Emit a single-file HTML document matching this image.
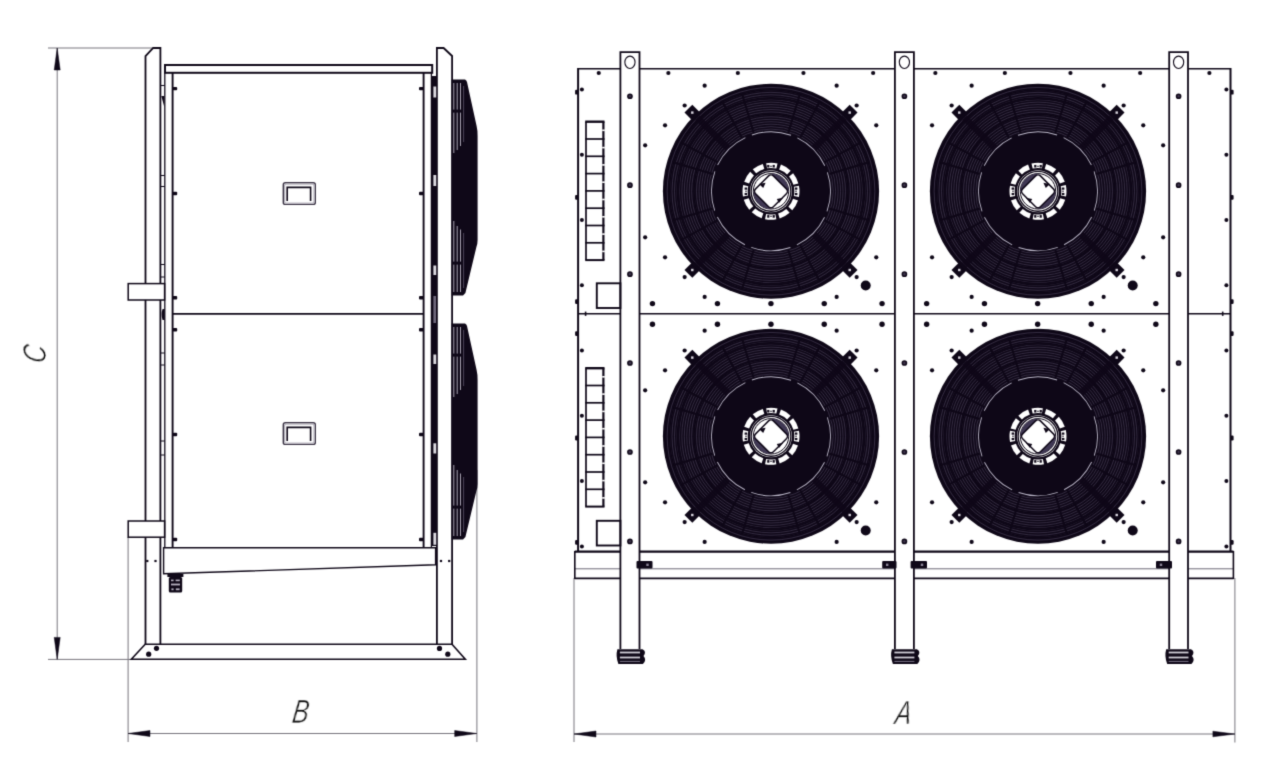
<!DOCTYPE html>
<html lang="en"><head><meta charset="utf-8"><title>Dimensional drawing</title>
<style>html,body{margin:0;padding:0;background:#fff;}body{width:1280px;height:771px;overflow:hidden;}svg{display:block;}</style></head><body>
<svg width="1280" height="771" viewBox="0 0 1280 771">
<rect width="1280" height="771" fill="#fff"/>
<defs><filter id="soft" x="0" y="0" width="1280" height="771" filterUnits="userSpaceOnUse" color-interpolation-filters="sRGB"><feConvolveMatrix order="3" kernelMatrix="0.01917 0.10012 0.01917 0.10012 0.52283 0.10012 0.01917 0.10012 0.01917" edgeMode="duplicate" preserveAlpha="true"/></filter><filter id="gray" x="-20%" y="-20%" width="140%" height="140%" color-interpolation-filters="sRGB"><feColorMatrix type="saturate" values="0"/></filter></defs>
<g filter="url(#soft)">
<rect width="1280" height="771" fill="#fff"/>
<line x1="57.2" y1="48" x2="57.2" y2="659.4" stroke="#77757d" stroke-width="1" />
<line x1="48" y1="48" x2="153" y2="48" stroke="#77757d" stroke-width="1" />
<line x1="48" y1="659.4" x2="132" y2="659.4" stroke="#77757d" stroke-width="1" />
<path d="M57.20,48.00 L54.20,70.00 L60.20,70.00 Z" stroke="#0f0818" stroke-width="0.5" fill="#0f0818" stroke-linejoin="miter"/>
<path d="M57.20,659.40 L54.20,637.40 L60.20,637.40 Z" stroke="#0f0818" stroke-width="0.5" fill="#0f0818" stroke-linejoin="miter"/>
<line x1="128.1" y1="733.5" x2="476.7" y2="733.5" stroke="#77757d" stroke-width="1" />
<line x1="128.1" y1="537" x2="128.1" y2="742" stroke="#77757d" stroke-width="1" />
<line x1="476.9" y1="470" x2="476.9" y2="742" stroke="#77757d" stroke-width="1" />
<path d="M128.10,733.50 L150.00,730.50 L150.00,736.50 Z" stroke="#0f0818" stroke-width="0.5" fill="#0f0818" stroke-linejoin="miter"/>
<path d="M476.70,733.50 L454.70,730.50 L454.70,736.50 Z" stroke="#0f0818" stroke-width="0.5" fill="#0f0818" stroke-linejoin="miter"/>
<line x1="574" y1="734" x2="1234.9" y2="734" stroke="#77757d" stroke-width="1" />
<line x1="574" y1="578" x2="574" y2="742" stroke="#77757d" stroke-width="1" />
<line x1="1234.9" y1="578" x2="1234.9" y2="742.5" stroke="#77757d" stroke-width="1" />
<path d="M574.00,734.00 L596.00,731.00 L596.00,737.00 Z" stroke="#0f0818" stroke-width="0.5" fill="#0f0818" stroke-linejoin="miter"/>
<path d="M1234.90,734.00 L1212.90,731.20 L1212.90,736.80 Z" stroke="#0f0818" stroke-width="0.5" fill="#0f0818" stroke-linejoin="miter"/>
<text x="0" y="0" font-family="Liberation Sans, sans-serif" font-style="italic" font-size="33" fill="#0f0818" stroke="#fff" stroke-width="0.7" paint-order="fill stroke" filter="url(#gray)" text-anchor="middle" transform="translate(299.5,722.8) skewX(-8) scale(0.74,1)">B</text>
<text x="0" y="0" font-family="Liberation Sans, sans-serif" font-style="italic" font-size="33" fill="#0f0818" stroke="#fff" stroke-width="0.7" paint-order="fill stroke" filter="url(#gray)" text-anchor="middle" transform="translate(902.2,724) skewX(-8) scale(0.74,1)">A</text>
<text x="0" y="0" font-family="Liberation Sans, sans-serif" font-style="italic" font-size="33" fill="#0f0818" stroke="#fff" stroke-width="0.7" paint-order="fill stroke" filter="url(#gray)" text-anchor="middle" transform="translate(46,355.2) rotate(-90) skewX(-8) scale(0.74,1)">C</text>
<path d="M145.50,644.00 L145.50,56.20 L153.20,48.00 L160.40,48.00 L160.40,644.00" stroke="#0f0818" stroke-width="1.8" fill="none" stroke-linejoin="miter"/>
<path d="M436.90,644.00 L436.90,48.00 L443.60,48.00 L452.10,56.00 L452.10,644.00" stroke="#0f0818" stroke-width="1.8" fill="none" stroke-linejoin="miter"/>
<path d="M131.30,659.20 L145.20,644.20 L452.00,644.20 L465.30,659.20 Z" stroke="#0f0818" stroke-width="1.6" fill="none" stroke-linejoin="miter"/>
<circle cx="156.50" cy="648.30" r="2.6" fill="#0f0818"/>
<circle cx="148.70" cy="654.20" r="2.6" fill="#0f0818"/>
<circle cx="439.50" cy="648.40" r="2.6" fill="#0f0818"/>
<circle cx="447.80" cy="654.20" r="2.6" fill="#0f0818"/>
<rect x="165" y="65" width="267.2" height="7.8" stroke="#0f0818" stroke-width="2.0" fill="none" rx="0"/>
<line x1="164.8" y1="72" x2="164.8" y2="574" stroke="#0f0818" stroke-width="1.3" />
<line x1="172.6" y1="72" x2="172.6" y2="547.7" stroke="#0f0818" stroke-width="1.9" />
<line x1="423.6" y1="72" x2="423.6" y2="547.7" stroke="#0f0818" stroke-width="1.9" />
<line x1="431.4" y1="72" x2="431.4" y2="547.7" stroke="#0f0818" stroke-width="1.3" />
<rect x="431.6" y="76" width="5.4" height="470" fill="#0f0818"/>
<rect x="433.4" y="296" width="2.6" height="27" fill="#6f687c"/>
<rect x="433.4" y="86.5" width="2.8" height="11" fill="#dedce2"/>
<rect x="433.4" y="175" width="2.8" height="11" fill="#dedce2"/>
<rect x="433.4" y="265.5" width="2.8" height="9.5" fill="#dedce2"/>
<rect x="433.4" y="354.5" width="2.8" height="9.5" fill="#dedce2"/>
<rect x="433.4" y="443.3" width="2.8" height="10.2" fill="#dedce2"/>
<rect x="433.4" y="532.8" width="2.8" height="12" fill="#dedce2"/>
<line x1="160" y1="85.5" x2="164.8" y2="85.5" stroke="#0f0818" stroke-width="1" />
<line x1="160.3" y1="175.5" x2="164.8" y2="175.5" stroke="#0f0818" stroke-width="1" />
<line x1="160.3" y1="186.5" x2="164.8" y2="186.5" stroke="#0f0818" stroke-width="1" />
<line x1="160.3" y1="264.5" x2="164.8" y2="264.5" stroke="#0f0818" stroke-width="1" />
<line x1="160.3" y1="277" x2="164.8" y2="277" stroke="#0f0818" stroke-width="1" />
<line x1="160.3" y1="353" x2="164.8" y2="353" stroke="#0f0818" stroke-width="1" />
<line x1="160.3" y1="365" x2="164.8" y2="365" stroke="#0f0818" stroke-width="1" />
<line x1="160.3" y1="441" x2="164.8" y2="441" stroke="#0f0818" stroke-width="1" />
<line x1="160.3" y1="455" x2="164.8" y2="455" stroke="#0f0818" stroke-width="1" />
<line x1="160.3" y1="530" x2="164.8" y2="530" stroke="#0f0818" stroke-width="1" />
<path d="M161.3,96 L164.3,96 L164.3,107 Z" fill="#0f0818"/>
<path d="M162.6,309 Q160.6,314 162.6,320 L164.6,320 L164.6,309 Z" fill="#0f0818"/>
<line x1="172.6" y1="313.8" x2="423.6" y2="313.8" stroke="#0f0818" stroke-width="1.8" />
<rect x="172.6" y="86.89999999999999" width="4.6" height="3.4" rx="1" fill="#0f0818"/>
<rect x="419" y="86.89999999999999" width="4.6" height="3.4" rx="1" fill="#0f0818"/>
<rect x="172.6" y="191.8" width="4.6" height="3.4" rx="1" fill="#0f0818"/>
<rect x="419" y="191.8" width="4.6" height="3.4" rx="1" fill="#0f0818"/>
<rect x="172.6" y="296.0" width="4.6" height="3.4" rx="1" fill="#0f0818"/>
<rect x="419" y="296.0" width="4.6" height="3.4" rx="1" fill="#0f0818"/>
<rect x="172.6" y="328.0" width="4.6" height="3.4" rx="1" fill="#0f0818"/>
<rect x="419" y="328.0" width="4.6" height="3.4" rx="1" fill="#0f0818"/>
<rect x="172.6" y="432.8" width="4.6" height="3.4" rx="1" fill="#0f0818"/>
<rect x="419" y="432.8" width="4.6" height="3.4" rx="1" fill="#0f0818"/>
<rect x="172.6" y="537.8" width="4.6" height="3.4" rx="1" fill="#0f0818"/>
<rect x="419" y="537.8" width="4.6" height="3.4" rx="1" fill="#0f0818"/>
<rect x="128.2" y="283.6" width="36.4" height="16.4" stroke="#0f0818" stroke-width="1.5" fill="#fff" rx="0"/>
<rect x="128.2" y="521" width="36.4" height="16.2" stroke="#0f0818" stroke-width="1.5" fill="#fff" rx="0"/>
<path d="M163.60,547.70 L435.60,547.70 L435.60,564.80 L163.60,573.80 Z" stroke="#0f0818" stroke-width="1.4" fill="#fff" stroke-linejoin="miter"/>
<rect x="146.20000000000002" y="559.9" width="2.2" height="2.2" fill="#0f0818"/>
<rect x="154.4" y="559.9" width="2.2" height="2.2" fill="#0f0818"/>
<rect x="439.9" y="559.9" width="2.2" height="2.2" fill="#0f0818"/>
<rect x="448.09999999999997" y="559.9" width="2.2" height="2.2" fill="#0f0818"/>
<rect x="167.4" y="574" width="16" height="3" fill="#0f0818"/>
<rect x="168.8" y="577" width="13.4" height="15.5" rx="1.5" fill="#0f0818"/>
<rect x="171" y="579.6" width="2.6" height="1.6" fill="#b4b0be"/>
<rect x="175.6" y="579.6" width="4.2" height="1.6" fill="#b4b0be"/>
<rect x="171" y="583.6" width="9" height="1.8" fill="#b4b0be"/>
<rect x="171.4" y="588.4" width="2.2" height="1.8" fill="#b4b0be"/>
<rect x="175.8" y="588.4" width="3.8" height="1.8" fill="#b4b0be"/>
<rect x="283.3" y="182.8" width="32" height="21.6" stroke="#3a3344" stroke-width="1.4" fill="none" rx="2"/>
<path d="M287.2,201.0 L287.2,187.4 L310.6,187.4 L310.6,201.0" stroke="#0f0818" stroke-width="1.6" fill="none"/>
<rect x="284.6" y="184.10000000000002" width="29.4" height="19" rx="1.5" fill="none" stroke="#b9b6c0" stroke-width="1.2"/>
<rect x="283.3" y="422.8" width="32" height="21.6" stroke="#3a3344" stroke-width="1.4" fill="none" rx="2"/>
<path d="M287.2,441.0 L287.2,427.40000000000003 L310.6,427.40000000000003 L310.6,441.0" stroke="#0f0818" stroke-width="1.6" fill="none"/>
<rect x="284.6" y="424.1" width="29.4" height="19" rx="1.5" fill="none" stroke="#b9b6c0" stroke-width="1.2"/>
<path d="M451.6,79.5 L465,79.5 Q466.5,80 467,82 L476.6,126 Q477.6,130 477.6,136 L477.6,240 Q477.6,244 476.4,247 L465.4,293 L463,295.6 L451.6,295.6 Z" fill="#0f0818"/>
<line x1="453.8" y1="83" x2="453.8" y2="109.6" stroke="#bab6c4" stroke-width="0.9"/>
<line x1="453.8" y1="112.6" x2="453.8" y2="153" stroke="#bab6c4" stroke-width="0.9"/>
<line x1="453.8" y1="221" x2="453.8" y2="261.6" stroke="#bab6c4" stroke-width="0.9"/>
<line x1="453.8" y1="264.6" x2="453.8" y2="292" stroke="#bab6c4" stroke-width="0.9"/>
<line x1="457.2" y1="83" x2="457.2" y2="109.6" stroke="#bab6c4" stroke-width="0.9"/>
<line x1="457.2" y1="112.6" x2="457.2" y2="150" stroke="#bab6c4" stroke-width="0.9"/>
<line x1="457.2" y1="226" x2="457.2" y2="261.6" stroke="#bab6c4" stroke-width="0.9"/>
<line x1="457.2" y1="264.6" x2="457.2" y2="292" stroke="#bab6c4" stroke-width="0.9"/>
<line x1="460.5" y1="83" x2="460.5" y2="109.6" stroke="#bab6c4" stroke-width="0.9"/>
<line x1="460.5" y1="112.6" x2="460.5" y2="146" stroke="#bab6c4" stroke-width="0.9"/>
<line x1="460.5" y1="229.5" x2="460.5" y2="261.6" stroke="#bab6c4" stroke-width="0.9"/>
<line x1="460.5" y1="264.6" x2="460.5" y2="292" stroke="#bab6c4" stroke-width="0.9"/>
<line x1="463.6" y1="86" x2="463.6" y2="142" stroke="#5d566b" stroke-width="0.8"/>
<line x1="463.6" y1="233" x2="463.6" y2="288" stroke="#5d566b" stroke-width="0.8"/>
<path d="M451.6,323.5 L465,323.5 Q466.5,324 467,326 L476.6,370 Q477.6,374 477.6,380 L477.6,484 Q477.6,488 476.4,491 L465.4,537 L463,539.6 L451.6,539.6 Z" fill="#0f0818"/>
<line x1="453.8" y1="327" x2="453.8" y2="353.6" stroke="#bab6c4" stroke-width="0.9"/>
<line x1="453.8" y1="356.6" x2="453.8" y2="397" stroke="#bab6c4" stroke-width="0.9"/>
<line x1="453.8" y1="465" x2="453.8" y2="505.6" stroke="#bab6c4" stroke-width="0.9"/>
<line x1="453.8" y1="508.6" x2="453.8" y2="536" stroke="#bab6c4" stroke-width="0.9"/>
<line x1="457.2" y1="327" x2="457.2" y2="353.6" stroke="#bab6c4" stroke-width="0.9"/>
<line x1="457.2" y1="356.6" x2="457.2" y2="394" stroke="#bab6c4" stroke-width="0.9"/>
<line x1="457.2" y1="470" x2="457.2" y2="505.6" stroke="#bab6c4" stroke-width="0.9"/>
<line x1="457.2" y1="508.6" x2="457.2" y2="536" stroke="#bab6c4" stroke-width="0.9"/>
<line x1="460.5" y1="327" x2="460.5" y2="353.6" stroke="#bab6c4" stroke-width="0.9"/>
<line x1="460.5" y1="356.6" x2="460.5" y2="390" stroke="#bab6c4" stroke-width="0.9"/>
<line x1="460.5" y1="473.5" x2="460.5" y2="505.6" stroke="#bab6c4" stroke-width="0.9"/>
<line x1="460.5" y1="508.6" x2="460.5" y2="536" stroke="#bab6c4" stroke-width="0.9"/>
<line x1="463.6" y1="330" x2="463.6" y2="386" stroke="#5d566b" stroke-width="0.8"/>
<line x1="463.6" y1="477" x2="463.6" y2="532" stroke="#5d566b" stroke-width="0.8"/>
<line x1="578.1" y1="68.75" x2="620.4" y2="68.75" stroke="#0f0818" stroke-width="1.7" />
<line x1="578.1" y1="313.75" x2="620.4" y2="313.75" stroke="#0f0818" stroke-width="1.7" />
<line x1="574.8" y1="551.6" x2="620.4" y2="551.6" stroke="#0f0818" stroke-width="2.2" />
<line x1="639.5" y1="68.75" x2="894.9" y2="68.75" stroke="#0f0818" stroke-width="1.7" />
<line x1="639.5" y1="313.75" x2="894.9" y2="313.75" stroke="#0f0818" stroke-width="1.7" />
<line x1="639.5" y1="551.6" x2="894.9" y2="551.6" stroke="#0f0818" stroke-width="2.2" />
<line x1="913.9" y1="68.75" x2="1169.2" y2="68.75" stroke="#0f0818" stroke-width="1.7" />
<line x1="913.9" y1="313.75" x2="1169.2" y2="313.75" stroke="#0f0818" stroke-width="1.7" />
<line x1="913.9" y1="551.6" x2="1169.2" y2="551.6" stroke="#0f0818" stroke-width="2.2" />
<line x1="1188.0" y1="68.75" x2="1230.5" y2="68.75" stroke="#0f0818" stroke-width="1.7" />
<line x1="1188.0" y1="313.75" x2="1230.5" y2="313.75" stroke="#0f0818" stroke-width="1.7" />
<line x1="1188.0" y1="551.6" x2="1233.4" y2="551.6" stroke="#0f0818" stroke-width="2.2" />
<line x1="578.1" y1="67.95" x2="578.1" y2="551.6" stroke="#0f0818" stroke-width="2.0" />
<line x1="1230.5" y1="67.95" x2="1230.5" y2="551.6" stroke="#0f0818" stroke-width="2.0" />
<line x1="574.6" y1="578.4" x2="620.4" y2="578.4" stroke="#0f0818" stroke-width="1.8" />
<line x1="574.6" y1="568.8" x2="620.4" y2="568.8" stroke="#6d6977" stroke-width="1" />
<line x1="639.5" y1="578.4" x2="894.9" y2="578.4" stroke="#0f0818" stroke-width="1.8" />
<line x1="639.5" y1="568.8" x2="894.9" y2="568.8" stroke="#6d6977" stroke-width="1" />
<line x1="913.9" y1="578.4" x2="1169.2" y2="578.4" stroke="#0f0818" stroke-width="1.8" />
<line x1="913.9" y1="568.8" x2="1169.2" y2="568.8" stroke="#6d6977" stroke-width="1" />
<line x1="1188.0" y1="578.4" x2="1233.6" y2="578.4" stroke="#0f0818" stroke-width="1.8" />
<line x1="1188.0" y1="568.8" x2="1233.6" y2="568.8" stroke="#6d6977" stroke-width="1" />
<line x1="574.8" y1="551" x2="574.8" y2="579" stroke="#0f0818" stroke-width="1.6" />
<line x1="1233.4" y1="551" x2="1233.4" y2="579" stroke="#0f0818" stroke-width="1.6" />
<path d="M620.40,649.00 L620.40,52.10 L639.50,52.10 L639.50,649.00" stroke="#0f0818" stroke-width="1.8" fill="none" stroke-linejoin="miter"/>
<ellipse cx="629.95" cy="62.3" rx="5.1" ry="6.2" fill="none" stroke="#0f0818" stroke-width="1.1"/>
<circle cx="629.95" cy="96.25" r="2.1" fill="#3b3149" stroke="#0f0818" stroke-width="1.5"/>
<circle cx="629.95" cy="185.2" r="2.1" fill="#3b3149" stroke="#0f0818" stroke-width="1.5"/>
<circle cx="629.95" cy="274.2" r="2.1" fill="#3b3149" stroke="#0f0818" stroke-width="1.5"/>
<circle cx="629.95" cy="363" r="2.1" fill="#3b3149" stroke="#0f0818" stroke-width="1.5"/>
<circle cx="629.95" cy="452" r="2.1" fill="#3b3149" stroke="#0f0818" stroke-width="1.5"/>
<circle cx="629.95" cy="541.4" r="2.1" fill="#3b3149" stroke="#0f0818" stroke-width="1.5"/>
<path d="M617.8,649.2 L642.5,649.2 Q646.9,651.5 643.5,656 Q647.1,660 642.9,664 L618.4,664 Q615.4,656 617.4,649.2 Z" fill="#0f0818"/>
<rect x="619.9" y="651.6" width="20.100000000000023" height="1.8" fill="#cfccd6"/>
<rect x="619.9" y="656.6" width="20.100000000000023" height="1.8" fill="#cfccd6"/>
<rect x="619.9" y="660.9" width="20.100000000000023" height="1.1" fill="#6f697c"/>
<path d="M894.90,649.00 L894.90,52.10 L913.90,52.10 L913.90,649.00" stroke="#0f0818" stroke-width="1.8" fill="none" stroke-linejoin="miter"/>
<ellipse cx="904.40" cy="62.3" rx="5.1" ry="6.2" fill="none" stroke="#0f0818" stroke-width="1.1"/>
<circle cx="904.40" cy="96.25" r="2.1" fill="#3b3149" stroke="#0f0818" stroke-width="1.5"/>
<circle cx="904.40" cy="185.2" r="2.1" fill="#3b3149" stroke="#0f0818" stroke-width="1.5"/>
<circle cx="904.40" cy="274.2" r="2.1" fill="#3b3149" stroke="#0f0818" stroke-width="1.5"/>
<circle cx="904.40" cy="363" r="2.1" fill="#3b3149" stroke="#0f0818" stroke-width="1.5"/>
<circle cx="904.40" cy="452" r="2.1" fill="#3b3149" stroke="#0f0818" stroke-width="1.5"/>
<circle cx="904.40" cy="541.4" r="2.1" fill="#3b3149" stroke="#0f0818" stroke-width="1.5"/>
<path d="M892.3,649.2 L916.9,649.2 Q921.3,651.5 917.9,656 Q921.5,660 917.3,664 L892.9,664 Q889.9,656 891.9,649.2 Z" fill="#0f0818"/>
<rect x="894.4" y="651.6" width="20.0" height="1.8" fill="#cfccd6"/>
<rect x="894.4" y="656.6" width="20.0" height="1.8" fill="#cfccd6"/>
<rect x="894.4" y="660.9" width="20.0" height="1.1" fill="#6f697c"/>
<path d="M1169.20,649.00 L1169.20,52.10 L1188.00,52.10 L1188.00,649.00" stroke="#0f0818" stroke-width="1.8" fill="none" stroke-linejoin="miter"/>
<ellipse cx="1178.60" cy="62.3" rx="5.1" ry="6.2" fill="none" stroke="#0f0818" stroke-width="1.1"/>
<circle cx="1178.60" cy="96.25" r="2.1" fill="#3b3149" stroke="#0f0818" stroke-width="1.5"/>
<circle cx="1178.60" cy="185.2" r="2.1" fill="#3b3149" stroke="#0f0818" stroke-width="1.5"/>
<circle cx="1178.60" cy="274.2" r="2.1" fill="#3b3149" stroke="#0f0818" stroke-width="1.5"/>
<circle cx="1178.60" cy="363" r="2.1" fill="#3b3149" stroke="#0f0818" stroke-width="1.5"/>
<circle cx="1178.60" cy="452" r="2.1" fill="#3b3149" stroke="#0f0818" stroke-width="1.5"/>
<circle cx="1178.60" cy="541.4" r="2.1" fill="#3b3149" stroke="#0f0818" stroke-width="1.5"/>
<path d="M1166.6000000000001,649.2 L1191.0,649.2 Q1195.4,651.5 1192.0,656 Q1195.6,660 1191.4,664 L1167.2,664 Q1164.2,656 1166.2,649.2 Z" fill="#0f0818"/>
<rect x="1168.7" y="651.6" width="19.799999999999955" height="1.8" fill="#cfccd6"/>
<rect x="1168.7" y="656.6" width="19.799999999999955" height="1.8" fill="#cfccd6"/>
<rect x="1168.7" y="660.9" width="19.799999999999955" height="1.1" fill="#6f697c"/>
<rect x="636.5" y="561" width="16.0" height="7.4" rx="1" fill="#0f0818"/>
<rect x="646.3" y="563.6" width="2.4" height="2.4" fill="#8d8799"/>
<rect x="882.2" y="561" width="14.299999999999955" height="7.4" rx="1" fill="#0f0818"/>
<rect x="886.0" y="563.6" width="2.4" height="2.4" fill="#8d8799"/>
<rect x="910.6" y="561" width="16.399999999999977" height="7.4" rx="1" fill="#0f0818"/>
<rect x="920.8" y="563.6" width="2.4" height="2.4" fill="#8d8799"/>
<rect x="1156" y="561" width="16" height="7.4" rx="1" fill="#0f0818"/>
<rect x="1159.8" y="563.6" width="2.4" height="2.4" fill="#8d8799"/>
<line x1="586" y1="121.7" x2="586" y2="260.1" stroke="#0f0818" stroke-width="1.7" />
<line x1="603.4" y1="121.7" x2="603.4" y2="260.1" stroke="#0f0818" stroke-width="2.2" />
<line x1="585.2" y1="121.7" x2="604.5" y2="121.7" stroke="#0f0818" stroke-width="2.4" />
<line x1="585.2" y1="139.0" x2="604.5" y2="139.0" stroke="#0f0818" stroke-width="1.7" />
<line x1="585.2" y1="156.3" x2="604.5" y2="156.3" stroke="#0f0818" stroke-width="1.7" />
<line x1="585.2" y1="173.60000000000002" x2="604.5" y2="173.60000000000002" stroke="#0f0818" stroke-width="1.7" />
<line x1="585.2" y1="190.9" x2="604.5" y2="190.9" stroke="#0f0818" stroke-width="1.7" />
<line x1="585.2" y1="208.2" x2="604.5" y2="208.2" stroke="#0f0818" stroke-width="1.7" />
<line x1="585.2" y1="225.5" x2="604.5" y2="225.5" stroke="#0f0818" stroke-width="1.7" />
<line x1="585.2" y1="242.8" x2="604.5" y2="242.8" stroke="#0f0818" stroke-width="1.7" />
<line x1="585.2" y1="260.1" x2="604.5" y2="260.1" stroke="#0f0818" stroke-width="2.0" />
<rect x="602.1999999999999" y="129.5" width="2.6" height="1.6" fill="#fff"/>
<rect x="602.1999999999999" y="146.79999999999998" width="2.6" height="1.6" fill="#fff"/>
<rect x="602.1999999999999" y="164.1" width="2.6" height="1.6" fill="#fff"/>
<rect x="602.1999999999999" y="181.4" width="2.6" height="1.6" fill="#fff"/>
<rect x="602.1999999999999" y="198.7" width="2.6" height="1.6" fill="#fff"/>
<rect x="602.1999999999999" y="215.99999999999997" width="2.6" height="1.6" fill="#fff"/>
<rect x="602.1999999999999" y="233.29999999999998" width="2.6" height="1.6" fill="#fff"/>
<rect x="602.1999999999999" y="250.6" width="2.6" height="1.6" fill="#fff"/>
<line x1="586" y1="368.2" x2="586" y2="506.6" stroke="#0f0818" stroke-width="1.7" />
<line x1="603.4" y1="368.2" x2="603.4" y2="506.6" stroke="#0f0818" stroke-width="2.2" />
<line x1="585.2" y1="368.2" x2="604.5" y2="368.2" stroke="#0f0818" stroke-width="2.4" />
<line x1="585.2" y1="385.5" x2="604.5" y2="385.5" stroke="#0f0818" stroke-width="1.7" />
<line x1="585.2" y1="402.8" x2="604.5" y2="402.8" stroke="#0f0818" stroke-width="1.7" />
<line x1="585.2" y1="420.1" x2="604.5" y2="420.1" stroke="#0f0818" stroke-width="1.7" />
<line x1="585.2" y1="437.4" x2="604.5" y2="437.4" stroke="#0f0818" stroke-width="1.7" />
<line x1="585.2" y1="454.7" x2="604.5" y2="454.7" stroke="#0f0818" stroke-width="1.7" />
<line x1="585.2" y1="472.0" x2="604.5" y2="472.0" stroke="#0f0818" stroke-width="1.7" />
<line x1="585.2" y1="489.3" x2="604.5" y2="489.3" stroke="#0f0818" stroke-width="1.7" />
<line x1="585.2" y1="506.6" x2="604.5" y2="506.6" stroke="#0f0818" stroke-width="2.0" />
<rect x="602.1999999999999" y="376.0" width="2.6" height="1.6" fill="#fff"/>
<rect x="602.1999999999999" y="393.3" width="2.6" height="1.6" fill="#fff"/>
<rect x="602.1999999999999" y="410.6" width="2.6" height="1.6" fill="#fff"/>
<rect x="602.1999999999999" y="427.90000000000003" width="2.6" height="1.6" fill="#fff"/>
<rect x="602.1999999999999" y="445.2" width="2.6" height="1.6" fill="#fff"/>
<rect x="602.1999999999999" y="462.5" width="2.6" height="1.6" fill="#fff"/>
<rect x="602.1999999999999" y="479.8" width="2.6" height="1.6" fill="#fff"/>
<rect x="602.1999999999999" y="497.1" width="2.6" height="1.6" fill="#fff"/>
<line x1="585.6" y1="311.6" x2="585.6" y2="315.9" stroke="#0f0818" stroke-width="1.6" />
<line x1="1222.7" y1="311.6" x2="1222.7" y2="315.9" stroke="#0f0818" stroke-width="1.6" />
<rect x="596.8" y="283.3" width="23.6" height="24.7" stroke="#0f0818" stroke-width="1.9" fill="none" rx="0"/>
<rect x="596.8" y="520.8" width="23.6" height="24.7" stroke="#0f0818" stroke-width="1.9" fill="none" rx="0"/>
<circle cx="581.90" cy="89.50" r="2.0" fill="#0f0818"/>
<circle cx="1226.40" cy="89.50" r="2.0" fill="#0f0818"/>
<circle cx="581.90" cy="154.77" r="2.0" fill="#0f0818"/>
<circle cx="1226.40" cy="154.77" r="2.0" fill="#0f0818"/>
<circle cx="581.90" cy="220.04" r="2.0" fill="#0f0818"/>
<circle cx="1226.40" cy="220.04" r="2.0" fill="#0f0818"/>
<circle cx="581.90" cy="285.31" r="2.0" fill="#0f0818"/>
<circle cx="1226.40" cy="285.31" r="2.0" fill="#0f0818"/>
<circle cx="581.90" cy="350.58" r="2.0" fill="#0f0818"/>
<circle cx="1226.40" cy="350.58" r="2.0" fill="#0f0818"/>
<circle cx="581.90" cy="415.85" r="2.0" fill="#0f0818"/>
<circle cx="1226.40" cy="415.85" r="2.0" fill="#0f0818"/>
<circle cx="581.90" cy="481.12" r="2.0" fill="#0f0818"/>
<circle cx="1226.40" cy="481.12" r="2.0" fill="#0f0818"/>
<circle cx="581.90" cy="546.39" r="2.0" fill="#0f0818"/>
<circle cx="1226.40" cy="546.39" r="2.0" fill="#0f0818"/>
<rect x="575.1" y="89.8" width="3" height="4.8" rx="1.2" fill="#0f0818"/>
<rect x="1230.4" y="89.8" width="3.2" height="4.8" rx="1.2" fill="#0f0818"/>
<rect x="575.1" y="194.9" width="3" height="4.8" rx="1.2" fill="#0f0818"/>
<rect x="1230.4" y="194.9" width="3.2" height="4.8" rx="1.2" fill="#0f0818"/>
<rect x="575.1" y="299.20000000000005" width="3" height="4.8" rx="1.2" fill="#0f0818"/>
<rect x="1230.4" y="299.20000000000005" width="3.2" height="4.8" rx="1.2" fill="#0f0818"/>
<rect x="575.1" y="331.20000000000005" width="3" height="4.8" rx="1.2" fill="#0f0818"/>
<rect x="1230.4" y="331.20000000000005" width="3.2" height="4.8" rx="1.2" fill="#0f0818"/>
<rect x="575.1" y="435.6" width="3" height="4.8" rx="1.2" fill="#0f0818"/>
<rect x="1230.4" y="435.6" width="3.2" height="4.8" rx="1.2" fill="#0f0818"/>
<rect x="575.1" y="540.0" width="3" height="4.8" rx="1.2" fill="#0f0818"/>
<rect x="1230.4" y="540.0" width="3.2" height="4.8" rx="1.2" fill="#0f0818"/>
<circle cx="598.75" cy="73.00" r="2.1" fill="#0f0818"/>
<circle cx="1209.40" cy="73.00" r="2.1" fill="#0f0818"/>
<circle cx="645.15" cy="145.30" r="2.1" fill="#0f0818"/>
<circle cx="645.15" cy="237.30" r="2.1" fill="#0f0818"/>
<circle cx="665.05" cy="125.30" r="2.1" fill="#0f0818"/>
<circle cx="665.05" cy="257.30" r="2.1" fill="#0f0818"/>
<circle cx="876.25" cy="125.30" r="2.1" fill="#0f0818"/>
<circle cx="876.25" cy="257.30" r="2.1" fill="#0f0818"/>
<circle cx="684.65" cy="105.50" r="2.1" fill="#0f0818"/>
<circle cx="684.65" cy="277.10" r="2.1" fill="#0f0818"/>
<circle cx="856.65" cy="105.50" r="2.1" fill="#0f0818"/>
<circle cx="856.65" cy="277.10" r="2.1" fill="#0f0818"/>
<circle cx="704.65" cy="85.70" r="2.1" fill="#0f0818"/>
<circle cx="704.65" cy="296.90" r="2.1" fill="#0f0818"/>
<circle cx="836.65" cy="85.70" r="2.1" fill="#0f0818"/>
<circle cx="836.65" cy="296.90" r="2.1" fill="#0f0818"/>
<circle cx="668.35" cy="73.00" r="2.1" fill="#0f0818"/>
<circle cx="737.85" cy="73.00" r="2.1" fill="#0f0818"/>
<circle cx="803.45" cy="73.00" r="2.1" fill="#0f0818"/>
<circle cx="873.15" cy="73.00" r="2.1" fill="#0f0818"/>
<circle cx="652.45" cy="303.60" r="2.7" fill="#0f0818"/>
<circle cx="717.45" cy="303.60" r="2.7" fill="#0f0818"/>
<circle cx="770.95" cy="303.60" r="2.7" fill="#0f0818"/>
<circle cx="824.25" cy="303.60" r="2.7" fill="#0f0818"/>
<circle cx="882.05" cy="303.60" r="2.7" fill="#0f0818"/>
<circle cx="865.70" cy="285.50" r="5" fill="#0f0818"/>
<g transform="translate(771.0,191.3) scale(1,1)"><g>
<g transform="translate(78.70,-78.70)"><path d="M0,-7.8 L7.8,0 L0,7.8 L-7.8,0 Z" fill="#0e0717"/><rect x="-1.2" y="-1.2" width="2.4" height="2.4" fill="#dcd9e2"/></g>
<g transform="translate(-78.70,-78.70)"><path d="M0,-7.8 L7.8,0 L0,7.8 L-7.8,0 Z" fill="#0e0717"/><rect x="-1.2" y="-1.2" width="2.4" height="2.4" fill="#dcd9e2"/></g>
<g transform="translate(-78.70,78.70)"><path d="M0,-7.8 L7.8,0 L0,7.8 L-7.8,0 Z" fill="#0e0717"/><rect x="-1.2" y="-1.2" width="2.4" height="2.4" fill="#dcd9e2"/></g>
<g transform="translate(78.70,78.70)"><path d="M0,-7.8 L7.8,0 L0,7.8 L-7.8,0 Z" fill="#0e0717"/><rect x="-1.2" y="-1.2" width="2.4" height="2.4" fill="#dcd9e2"/></g>
<ellipse rx="108.1" ry="107.5" fill="#0e0717"/>
<circle r="62.20" fill="none" stroke="#453d55" stroke-width="0.85" stroke-opacity="0.8"/>
<circle r="64.65" fill="none" stroke="#453d55" stroke-width="0.85" stroke-opacity="0.8"/>
<circle r="67.10" fill="none" stroke="#453d55" stroke-width="0.85" stroke-opacity="0.8"/>
<circle r="69.55" fill="none" stroke="#453d55" stroke-width="0.85" stroke-opacity="0.8"/>
<circle r="72.00" fill="none" stroke="#453d55" stroke-width="0.85" stroke-opacity="0.8"/>
<circle r="74.45" fill="none" stroke="#453d55" stroke-width="0.85" stroke-opacity="0.8"/>
<circle r="76.90" fill="none" stroke="#453d55" stroke-width="0.85" stroke-opacity="0.8"/>
<circle r="79.35" fill="none" stroke="#453d55" stroke-width="0.85" stroke-opacity="0.8"/>
<circle r="81.80" fill="none" stroke="#453d55" stroke-width="0.85" stroke-opacity="0.8"/>
<circle r="84.25" fill="none" stroke="#453d55" stroke-width="0.85" stroke-opacity="0.8"/>
<circle r="86.70" fill="none" stroke="#453d55" stroke-width="0.85" stroke-opacity="0.8"/>
<circle r="89.15" fill="none" stroke="#453d55" stroke-width="0.85" stroke-opacity="0.8"/>
<circle r="91.60" fill="none" stroke="#453d55" stroke-width="0.85" stroke-opacity="0.8"/>
<circle r="94.05" fill="none" stroke="#453d55" stroke-width="0.85" stroke-opacity="0.8"/>
<circle r="96.50" fill="none" stroke="#453d55" stroke-width="0.85" stroke-opacity="0.8"/>
<circle r="98.95" fill="none" stroke="#453d55" stroke-width="0.85" stroke-opacity="0.8"/>
<circle r="101.40" fill="none" stroke="#453d55" stroke-width="0.85" stroke-opacity="0.8"/>
<circle r="103.85" fill="none" stroke="#453d55" stroke-width="0.85" stroke-opacity="0.8"/>
<circle r="93.0" fill="none" stroke="#0e0717" stroke-width="2.6"/>
<circle r="77" fill="none" stroke="#0e0717" stroke-width="1.6"/>
<circle r="101.5" fill="none" stroke="#0e0717" stroke-width="1.4"/>
<line x1="56.57" y1="-16.76" x2="97.80" y2="-28.97" stroke="#0e0717" stroke-width="2.0"/>
<line x1="56.57" y1="16.76" x2="97.80" y2="28.97" stroke="#0e0717" stroke-width="2.0"/>
<line x1="51.85" y1="28.15" x2="89.64" y2="48.67" stroke="#0e0717" stroke-width="2.0"/>
<line x1="28.15" y1="51.85" x2="48.67" y2="89.64" stroke="#0e0717" stroke-width="2.0"/>
<line x1="16.76" y1="56.57" x2="28.97" y2="97.80" stroke="#0e0717" stroke-width="2.0"/>
<line x1="-16.76" y1="56.57" x2="-28.97" y2="97.80" stroke="#0e0717" stroke-width="2.0"/>
<line x1="-28.15" y1="51.85" x2="-48.67" y2="89.64" stroke="#0e0717" stroke-width="2.0"/>
<line x1="-51.85" y1="28.15" x2="-89.64" y2="48.67" stroke="#0e0717" stroke-width="2.0"/>
<line x1="-56.57" y1="16.76" x2="-97.80" y2="28.97" stroke="#0e0717" stroke-width="2.0"/>
<line x1="-56.57" y1="-16.76" x2="-97.80" y2="-28.97" stroke="#0e0717" stroke-width="2.0"/>
<line x1="-51.85" y1="-28.15" x2="-89.64" y2="-48.67" stroke="#0e0717" stroke-width="2.0"/>
<line x1="-28.15" y1="-51.85" x2="-48.67" y2="-89.64" stroke="#0e0717" stroke-width="2.0"/>
<line x1="-16.76" y1="-56.57" x2="-28.97" y2="-97.80" stroke="#0e0717" stroke-width="2.0"/>
<line x1="16.76" y1="-56.57" x2="28.97" y2="-97.80" stroke="#0e0717" stroke-width="2.0"/>
<line x1="28.15" y1="-51.85" x2="48.67" y2="-89.64" stroke="#0e0717" stroke-width="2.0"/>
<line x1="51.85" y1="-28.15" x2="89.64" y2="-48.67" stroke="#0e0717" stroke-width="2.0"/>
<line x1="41.72" y1="41.72" x2="73.54" y2="73.54" stroke="#0e0717" stroke-width="6.5" stroke-opacity="0.9"/>
<line x1="-41.72" y1="41.72" x2="-73.54" y2="73.54" stroke="#0e0717" stroke-width="6.5" stroke-opacity="0.9"/>
<line x1="-41.72" y1="-41.72" x2="-73.54" y2="-73.54" stroke="#0e0717" stroke-width="6.5" stroke-opacity="0.9"/>
<line x1="41.72" y1="-41.72" x2="73.54" y2="-73.54" stroke="#0e0717" stroke-width="6.5" stroke-opacity="0.9"/>
<circle r="59.5" fill="none" stroke="#b9b5c6" stroke-width="0.9" stroke-dasharray="39.731 7" transform="rotate(25.90)"/>
<circle r="25.9" fill="none" stroke="#ffffff" stroke-width="5.2" stroke-dasharray="10.307 3.255" transform="rotate(-11.40)"/>
<circle r="21" fill="#fff"/>
<circle r="19.9" fill="none" stroke="#0e0717" stroke-width="1.4"/>
<circle r="17.7" fill="none" stroke="#0e0717" stroke-width="1.0"/>
<path d="M0,-17.7 A17.7,17.7 0 0 1 17.7,0 Z M0,17.7 A17.7,17.7 0 0 1 -17.7,0 Z" fill="#3f3753"/>
<rect x="-12.6" y="-12.6" width="25.2" height="25.2" rx="3.4" fill="#fff" stroke="#0e0717" stroke-width="1.5" transform="rotate(45)"/>
<path d="M-12,-7.4 L-5.4,-8.6 L-7.8,-3.4 Z M5.8,7.6 L12.2,6.4 L8,11.6 Z" fill="#0e0717"/>
<g transform="rotate(0)"><rect x="-3.8" y="-26.4" width="2.2" height="2.6" fill="#0e0717"/><rect x="1.6" y="-26.4" width="2.2" height="2.6" fill="#0e0717"/><rect x="-0.7" y="-25.6" width="1.4" height="1.2" fill="#0e0717"/></g>
<g transform="rotate(90)"><rect x="-3.8" y="-26.4" width="2.2" height="2.6" fill="#0e0717"/><rect x="1.6" y="-26.4" width="2.2" height="2.6" fill="#0e0717"/><rect x="-0.7" y="-25.6" width="1.4" height="1.2" fill="#0e0717"/></g>
<g transform="rotate(180)"><rect x="-3.8" y="-26.4" width="2.2" height="2.6" fill="#0e0717"/><rect x="1.6" y="-26.4" width="2.2" height="2.6" fill="#0e0717"/><rect x="-0.7" y="-25.6" width="1.4" height="1.2" fill="#0e0717"/></g>
<g transform="rotate(270)"><rect x="-3.8" y="-26.4" width="2.2" height="2.6" fill="#0e0717"/><rect x="1.6" y="-26.4" width="2.2" height="2.6" fill="#0e0717"/><rect x="-0.7" y="-25.6" width="1.4" height="1.2" fill="#0e0717"/></g>
</g></g>
<circle cx="645.15" cy="390.30" r="2.1" fill="#0f0818"/>
<circle cx="645.15" cy="482.30" r="2.1" fill="#0f0818"/>
<circle cx="665.05" cy="370.30" r="2.1" fill="#0f0818"/>
<circle cx="665.05" cy="502.30" r="2.1" fill="#0f0818"/>
<circle cx="876.25" cy="370.30" r="2.1" fill="#0f0818"/>
<circle cx="876.25" cy="502.30" r="2.1" fill="#0f0818"/>
<circle cx="684.65" cy="350.50" r="2.1" fill="#0f0818"/>
<circle cx="684.65" cy="522.10" r="2.1" fill="#0f0818"/>
<circle cx="856.65" cy="350.50" r="2.1" fill="#0f0818"/>
<circle cx="856.65" cy="522.10" r="2.1" fill="#0f0818"/>
<circle cx="704.65" cy="330.70" r="2.1" fill="#0f0818"/>
<circle cx="704.65" cy="541.90" r="2.1" fill="#0f0818"/>
<circle cx="836.65" cy="330.70" r="2.1" fill="#0f0818"/>
<circle cx="836.65" cy="541.90" r="2.1" fill="#0f0818"/>
<circle cx="652.45" cy="324.30" r="2.7" fill="#0f0818"/>
<circle cx="717.45" cy="324.30" r="2.7" fill="#0f0818"/>
<circle cx="770.95" cy="324.30" r="2.7" fill="#0f0818"/>
<circle cx="824.25" cy="324.30" r="2.7" fill="#0f0818"/>
<circle cx="882.05" cy="324.30" r="2.7" fill="#0f0818"/>
<circle cx="865.70" cy="530.50" r="5" fill="#0f0818"/>
<g transform="translate(771.0,436.3) scale(1,1)"><g>
<g transform="translate(78.70,-78.70)"><path d="M0,-7.8 L7.8,0 L0,7.8 L-7.8,0 Z" fill="#0e0717"/><rect x="-1.2" y="-1.2" width="2.4" height="2.4" fill="#dcd9e2"/></g>
<g transform="translate(-78.70,-78.70)"><path d="M0,-7.8 L7.8,0 L0,7.8 L-7.8,0 Z" fill="#0e0717"/><rect x="-1.2" y="-1.2" width="2.4" height="2.4" fill="#dcd9e2"/></g>
<g transform="translate(-78.70,78.70)"><path d="M0,-7.8 L7.8,0 L0,7.8 L-7.8,0 Z" fill="#0e0717"/><rect x="-1.2" y="-1.2" width="2.4" height="2.4" fill="#dcd9e2"/></g>
<g transform="translate(78.70,78.70)"><path d="M0,-7.8 L7.8,0 L0,7.8 L-7.8,0 Z" fill="#0e0717"/><rect x="-1.2" y="-1.2" width="2.4" height="2.4" fill="#dcd9e2"/></g>
<ellipse rx="108.1" ry="107.5" fill="#0e0717"/>
<circle r="62.20" fill="none" stroke="#453d55" stroke-width="0.85" stroke-opacity="0.8"/>
<circle r="64.65" fill="none" stroke="#453d55" stroke-width="0.85" stroke-opacity="0.8"/>
<circle r="67.10" fill="none" stroke="#453d55" stroke-width="0.85" stroke-opacity="0.8"/>
<circle r="69.55" fill="none" stroke="#453d55" stroke-width="0.85" stroke-opacity="0.8"/>
<circle r="72.00" fill="none" stroke="#453d55" stroke-width="0.85" stroke-opacity="0.8"/>
<circle r="74.45" fill="none" stroke="#453d55" stroke-width="0.85" stroke-opacity="0.8"/>
<circle r="76.90" fill="none" stroke="#453d55" stroke-width="0.85" stroke-opacity="0.8"/>
<circle r="79.35" fill="none" stroke="#453d55" stroke-width="0.85" stroke-opacity="0.8"/>
<circle r="81.80" fill="none" stroke="#453d55" stroke-width="0.85" stroke-opacity="0.8"/>
<circle r="84.25" fill="none" stroke="#453d55" stroke-width="0.85" stroke-opacity="0.8"/>
<circle r="86.70" fill="none" stroke="#453d55" stroke-width="0.85" stroke-opacity="0.8"/>
<circle r="89.15" fill="none" stroke="#453d55" stroke-width="0.85" stroke-opacity="0.8"/>
<circle r="91.60" fill="none" stroke="#453d55" stroke-width="0.85" stroke-opacity="0.8"/>
<circle r="94.05" fill="none" stroke="#453d55" stroke-width="0.85" stroke-opacity="0.8"/>
<circle r="96.50" fill="none" stroke="#453d55" stroke-width="0.85" stroke-opacity="0.8"/>
<circle r="98.95" fill="none" stroke="#453d55" stroke-width="0.85" stroke-opacity="0.8"/>
<circle r="101.40" fill="none" stroke="#453d55" stroke-width="0.85" stroke-opacity="0.8"/>
<circle r="103.85" fill="none" stroke="#453d55" stroke-width="0.85" stroke-opacity="0.8"/>
<circle r="93.0" fill="none" stroke="#0e0717" stroke-width="2.6"/>
<circle r="77" fill="none" stroke="#0e0717" stroke-width="1.6"/>
<circle r="101.5" fill="none" stroke="#0e0717" stroke-width="1.4"/>
<line x1="56.57" y1="-16.76" x2="97.80" y2="-28.97" stroke="#0e0717" stroke-width="2.0"/>
<line x1="56.57" y1="16.76" x2="97.80" y2="28.97" stroke="#0e0717" stroke-width="2.0"/>
<line x1="51.85" y1="28.15" x2="89.64" y2="48.67" stroke="#0e0717" stroke-width="2.0"/>
<line x1="28.15" y1="51.85" x2="48.67" y2="89.64" stroke="#0e0717" stroke-width="2.0"/>
<line x1="16.76" y1="56.57" x2="28.97" y2="97.80" stroke="#0e0717" stroke-width="2.0"/>
<line x1="-16.76" y1="56.57" x2="-28.97" y2="97.80" stroke="#0e0717" stroke-width="2.0"/>
<line x1="-28.15" y1="51.85" x2="-48.67" y2="89.64" stroke="#0e0717" stroke-width="2.0"/>
<line x1="-51.85" y1="28.15" x2="-89.64" y2="48.67" stroke="#0e0717" stroke-width="2.0"/>
<line x1="-56.57" y1="16.76" x2="-97.80" y2="28.97" stroke="#0e0717" stroke-width="2.0"/>
<line x1="-56.57" y1="-16.76" x2="-97.80" y2="-28.97" stroke="#0e0717" stroke-width="2.0"/>
<line x1="-51.85" y1="-28.15" x2="-89.64" y2="-48.67" stroke="#0e0717" stroke-width="2.0"/>
<line x1="-28.15" y1="-51.85" x2="-48.67" y2="-89.64" stroke="#0e0717" stroke-width="2.0"/>
<line x1="-16.76" y1="-56.57" x2="-28.97" y2="-97.80" stroke="#0e0717" stroke-width="2.0"/>
<line x1="16.76" y1="-56.57" x2="28.97" y2="-97.80" stroke="#0e0717" stroke-width="2.0"/>
<line x1="28.15" y1="-51.85" x2="48.67" y2="-89.64" stroke="#0e0717" stroke-width="2.0"/>
<line x1="51.85" y1="-28.15" x2="89.64" y2="-48.67" stroke="#0e0717" stroke-width="2.0"/>
<line x1="41.72" y1="41.72" x2="73.54" y2="73.54" stroke="#0e0717" stroke-width="6.5" stroke-opacity="0.9"/>
<line x1="-41.72" y1="41.72" x2="-73.54" y2="73.54" stroke="#0e0717" stroke-width="6.5" stroke-opacity="0.9"/>
<line x1="-41.72" y1="-41.72" x2="-73.54" y2="-73.54" stroke="#0e0717" stroke-width="6.5" stroke-opacity="0.9"/>
<line x1="41.72" y1="-41.72" x2="73.54" y2="-73.54" stroke="#0e0717" stroke-width="6.5" stroke-opacity="0.9"/>
<circle r="59.5" fill="none" stroke="#b9b5c6" stroke-width="0.9" stroke-dasharray="39.731 7" transform="rotate(25.90)"/>
<circle r="25.9" fill="none" stroke="#ffffff" stroke-width="5.2" stroke-dasharray="10.307 3.255" transform="rotate(-11.40)"/>
<circle r="21" fill="#fff"/>
<circle r="19.9" fill="none" stroke="#0e0717" stroke-width="1.4"/>
<circle r="17.7" fill="none" stroke="#0e0717" stroke-width="1.0"/>
<path d="M0,-17.7 A17.7,17.7 0 0 1 17.7,0 Z M0,17.7 A17.7,17.7 0 0 1 -17.7,0 Z" fill="#3f3753"/>
<rect x="-12.6" y="-12.6" width="25.2" height="25.2" rx="3.4" fill="#fff" stroke="#0e0717" stroke-width="1.5" transform="rotate(45)"/>
<path d="M-12,-7.4 L-5.4,-8.6 L-7.8,-3.4 Z M5.8,7.6 L12.2,6.4 L8,11.6 Z" fill="#0e0717"/>
<g transform="rotate(0)"><rect x="-3.8" y="-26.4" width="2.2" height="2.6" fill="#0e0717"/><rect x="1.6" y="-26.4" width="2.2" height="2.6" fill="#0e0717"/><rect x="-0.7" y="-25.6" width="1.4" height="1.2" fill="#0e0717"/></g>
<g transform="rotate(90)"><rect x="-3.8" y="-26.4" width="2.2" height="2.6" fill="#0e0717"/><rect x="1.6" y="-26.4" width="2.2" height="2.6" fill="#0e0717"/><rect x="-0.7" y="-25.6" width="1.4" height="1.2" fill="#0e0717"/></g>
<g transform="rotate(180)"><rect x="-3.8" y="-26.4" width="2.2" height="2.6" fill="#0e0717"/><rect x="1.6" y="-26.4" width="2.2" height="2.6" fill="#0e0717"/><rect x="-0.7" y="-25.6" width="1.4" height="1.2" fill="#0e0717"/></g>
<g transform="rotate(270)"><rect x="-3.8" y="-26.4" width="2.2" height="2.6" fill="#0e0717"/><rect x="1.6" y="-26.4" width="2.2" height="2.6" fill="#0e0717"/><rect x="-0.7" y="-25.6" width="1.4" height="1.2" fill="#0e0717"/></g>
</g></g>
<circle cx="1163.15" cy="145.30" r="2.1" fill="#0f0818"/>
<circle cx="1163.15" cy="237.30" r="2.1" fill="#0f0818"/>
<circle cx="932.05" cy="125.30" r="2.1" fill="#0f0818"/>
<circle cx="932.05" cy="257.30" r="2.1" fill="#0f0818"/>
<circle cx="1143.25" cy="125.30" r="2.1" fill="#0f0818"/>
<circle cx="1143.25" cy="257.30" r="2.1" fill="#0f0818"/>
<circle cx="951.65" cy="105.50" r="2.1" fill="#0f0818"/>
<circle cx="951.65" cy="277.10" r="2.1" fill="#0f0818"/>
<circle cx="1123.65" cy="105.50" r="2.1" fill="#0f0818"/>
<circle cx="1123.65" cy="277.10" r="2.1" fill="#0f0818"/>
<circle cx="971.65" cy="85.70" r="2.1" fill="#0f0818"/>
<circle cx="971.65" cy="296.90" r="2.1" fill="#0f0818"/>
<circle cx="1103.65" cy="85.70" r="2.1" fill="#0f0818"/>
<circle cx="1103.65" cy="296.90" r="2.1" fill="#0f0818"/>
<circle cx="935.35" cy="73.00" r="2.1" fill="#0f0818"/>
<circle cx="1004.85" cy="73.00" r="2.1" fill="#0f0818"/>
<circle cx="1070.45" cy="73.00" r="2.1" fill="#0f0818"/>
<circle cx="1140.15" cy="73.00" r="2.1" fill="#0f0818"/>
<circle cx="926.65" cy="303.60" r="2.7" fill="#0f0818"/>
<circle cx="984.45" cy="303.60" r="2.7" fill="#0f0818"/>
<circle cx="1037.65" cy="303.60" r="2.7" fill="#0f0818"/>
<circle cx="1091.25" cy="303.60" r="2.7" fill="#0f0818"/>
<circle cx="1155.85" cy="303.60" r="2.7" fill="#0f0818"/>
<circle cx="1132.70" cy="285.50" r="5" fill="#0f0818"/>
<g transform="translate(1038.0,191.3) scale(-1,1)"><g>
<g transform="translate(78.70,-78.70)"><path d="M0,-7.8 L7.8,0 L0,7.8 L-7.8,0 Z" fill="#0e0717"/><rect x="-1.2" y="-1.2" width="2.4" height="2.4" fill="#dcd9e2"/></g>
<g transform="translate(-78.70,-78.70)"><path d="M0,-7.8 L7.8,0 L0,7.8 L-7.8,0 Z" fill="#0e0717"/><rect x="-1.2" y="-1.2" width="2.4" height="2.4" fill="#dcd9e2"/></g>
<g transform="translate(-78.70,78.70)"><path d="M0,-7.8 L7.8,0 L0,7.8 L-7.8,0 Z" fill="#0e0717"/><rect x="-1.2" y="-1.2" width="2.4" height="2.4" fill="#dcd9e2"/></g>
<g transform="translate(78.70,78.70)"><path d="M0,-7.8 L7.8,0 L0,7.8 L-7.8,0 Z" fill="#0e0717"/><rect x="-1.2" y="-1.2" width="2.4" height="2.4" fill="#dcd9e2"/></g>
<ellipse rx="108.1" ry="107.5" fill="#0e0717"/>
<circle r="62.20" fill="none" stroke="#453d55" stroke-width="0.85" stroke-opacity="0.8"/>
<circle r="64.65" fill="none" stroke="#453d55" stroke-width="0.85" stroke-opacity="0.8"/>
<circle r="67.10" fill="none" stroke="#453d55" stroke-width="0.85" stroke-opacity="0.8"/>
<circle r="69.55" fill="none" stroke="#453d55" stroke-width="0.85" stroke-opacity="0.8"/>
<circle r="72.00" fill="none" stroke="#453d55" stroke-width="0.85" stroke-opacity="0.8"/>
<circle r="74.45" fill="none" stroke="#453d55" stroke-width="0.85" stroke-opacity="0.8"/>
<circle r="76.90" fill="none" stroke="#453d55" stroke-width="0.85" stroke-opacity="0.8"/>
<circle r="79.35" fill="none" stroke="#453d55" stroke-width="0.85" stroke-opacity="0.8"/>
<circle r="81.80" fill="none" stroke="#453d55" stroke-width="0.85" stroke-opacity="0.8"/>
<circle r="84.25" fill="none" stroke="#453d55" stroke-width="0.85" stroke-opacity="0.8"/>
<circle r="86.70" fill="none" stroke="#453d55" stroke-width="0.85" stroke-opacity="0.8"/>
<circle r="89.15" fill="none" stroke="#453d55" stroke-width="0.85" stroke-opacity="0.8"/>
<circle r="91.60" fill="none" stroke="#453d55" stroke-width="0.85" stroke-opacity="0.8"/>
<circle r="94.05" fill="none" stroke="#453d55" stroke-width="0.85" stroke-opacity="0.8"/>
<circle r="96.50" fill="none" stroke="#453d55" stroke-width="0.85" stroke-opacity="0.8"/>
<circle r="98.95" fill="none" stroke="#453d55" stroke-width="0.85" stroke-opacity="0.8"/>
<circle r="101.40" fill="none" stroke="#453d55" stroke-width="0.85" stroke-opacity="0.8"/>
<circle r="103.85" fill="none" stroke="#453d55" stroke-width="0.85" stroke-opacity="0.8"/>
<circle r="93.0" fill="none" stroke="#0e0717" stroke-width="2.6"/>
<circle r="77" fill="none" stroke="#0e0717" stroke-width="1.6"/>
<circle r="101.5" fill="none" stroke="#0e0717" stroke-width="1.4"/>
<line x1="56.57" y1="-16.76" x2="97.80" y2="-28.97" stroke="#0e0717" stroke-width="2.0"/>
<line x1="56.57" y1="16.76" x2="97.80" y2="28.97" stroke="#0e0717" stroke-width="2.0"/>
<line x1="51.85" y1="28.15" x2="89.64" y2="48.67" stroke="#0e0717" stroke-width="2.0"/>
<line x1="28.15" y1="51.85" x2="48.67" y2="89.64" stroke="#0e0717" stroke-width="2.0"/>
<line x1="16.76" y1="56.57" x2="28.97" y2="97.80" stroke="#0e0717" stroke-width="2.0"/>
<line x1="-16.76" y1="56.57" x2="-28.97" y2="97.80" stroke="#0e0717" stroke-width="2.0"/>
<line x1="-28.15" y1="51.85" x2="-48.67" y2="89.64" stroke="#0e0717" stroke-width="2.0"/>
<line x1="-51.85" y1="28.15" x2="-89.64" y2="48.67" stroke="#0e0717" stroke-width="2.0"/>
<line x1="-56.57" y1="16.76" x2="-97.80" y2="28.97" stroke="#0e0717" stroke-width="2.0"/>
<line x1="-56.57" y1="-16.76" x2="-97.80" y2="-28.97" stroke="#0e0717" stroke-width="2.0"/>
<line x1="-51.85" y1="-28.15" x2="-89.64" y2="-48.67" stroke="#0e0717" stroke-width="2.0"/>
<line x1="-28.15" y1="-51.85" x2="-48.67" y2="-89.64" stroke="#0e0717" stroke-width="2.0"/>
<line x1="-16.76" y1="-56.57" x2="-28.97" y2="-97.80" stroke="#0e0717" stroke-width="2.0"/>
<line x1="16.76" y1="-56.57" x2="28.97" y2="-97.80" stroke="#0e0717" stroke-width="2.0"/>
<line x1="28.15" y1="-51.85" x2="48.67" y2="-89.64" stroke="#0e0717" stroke-width="2.0"/>
<line x1="51.85" y1="-28.15" x2="89.64" y2="-48.67" stroke="#0e0717" stroke-width="2.0"/>
<line x1="41.72" y1="41.72" x2="73.54" y2="73.54" stroke="#0e0717" stroke-width="6.5" stroke-opacity="0.9"/>
<line x1="-41.72" y1="41.72" x2="-73.54" y2="73.54" stroke="#0e0717" stroke-width="6.5" stroke-opacity="0.9"/>
<line x1="-41.72" y1="-41.72" x2="-73.54" y2="-73.54" stroke="#0e0717" stroke-width="6.5" stroke-opacity="0.9"/>
<line x1="41.72" y1="-41.72" x2="73.54" y2="-73.54" stroke="#0e0717" stroke-width="6.5" stroke-opacity="0.9"/>
<circle r="59.5" fill="none" stroke="#b9b5c6" stroke-width="0.9" stroke-dasharray="39.731 7" transform="rotate(25.90)"/>
<circle r="25.9" fill="none" stroke="#ffffff" stroke-width="5.2" stroke-dasharray="10.307 3.255" transform="rotate(-11.40)"/>
<circle r="21" fill="#fff"/>
<circle r="19.9" fill="none" stroke="#0e0717" stroke-width="1.4"/>
<circle r="17.7" fill="none" stroke="#0e0717" stroke-width="1.0"/>
<path d="M0,-17.7 A17.7,17.7 0 0 1 17.7,0 Z M0,17.7 A17.7,17.7 0 0 1 -17.7,0 Z" fill="#3f3753"/>
<rect x="-12.6" y="-12.6" width="25.2" height="25.2" rx="3.4" fill="#fff" stroke="#0e0717" stroke-width="1.5" transform="rotate(45)"/>
<path d="M-12,-7.4 L-5.4,-8.6 L-7.8,-3.4 Z M5.8,7.6 L12.2,6.4 L8,11.6 Z" fill="#0e0717"/>
<g transform="rotate(0)"><rect x="-3.8" y="-26.4" width="2.2" height="2.6" fill="#0e0717"/><rect x="1.6" y="-26.4" width="2.2" height="2.6" fill="#0e0717"/><rect x="-0.7" y="-25.6" width="1.4" height="1.2" fill="#0e0717"/></g>
<g transform="rotate(90)"><rect x="-3.8" y="-26.4" width="2.2" height="2.6" fill="#0e0717"/><rect x="1.6" y="-26.4" width="2.2" height="2.6" fill="#0e0717"/><rect x="-0.7" y="-25.6" width="1.4" height="1.2" fill="#0e0717"/></g>
<g transform="rotate(180)"><rect x="-3.8" y="-26.4" width="2.2" height="2.6" fill="#0e0717"/><rect x="1.6" y="-26.4" width="2.2" height="2.6" fill="#0e0717"/><rect x="-0.7" y="-25.6" width="1.4" height="1.2" fill="#0e0717"/></g>
<g transform="rotate(270)"><rect x="-3.8" y="-26.4" width="2.2" height="2.6" fill="#0e0717"/><rect x="1.6" y="-26.4" width="2.2" height="2.6" fill="#0e0717"/><rect x="-0.7" y="-25.6" width="1.4" height="1.2" fill="#0e0717"/></g>
</g></g>
<circle cx="1163.15" cy="390.30" r="2.1" fill="#0f0818"/>
<circle cx="1163.15" cy="482.30" r="2.1" fill="#0f0818"/>
<circle cx="932.05" cy="370.30" r="2.1" fill="#0f0818"/>
<circle cx="932.05" cy="502.30" r="2.1" fill="#0f0818"/>
<circle cx="1143.25" cy="370.30" r="2.1" fill="#0f0818"/>
<circle cx="1143.25" cy="502.30" r="2.1" fill="#0f0818"/>
<circle cx="951.65" cy="350.50" r="2.1" fill="#0f0818"/>
<circle cx="951.65" cy="522.10" r="2.1" fill="#0f0818"/>
<circle cx="1123.65" cy="350.50" r="2.1" fill="#0f0818"/>
<circle cx="1123.65" cy="522.10" r="2.1" fill="#0f0818"/>
<circle cx="971.65" cy="330.70" r="2.1" fill="#0f0818"/>
<circle cx="971.65" cy="541.90" r="2.1" fill="#0f0818"/>
<circle cx="1103.65" cy="330.70" r="2.1" fill="#0f0818"/>
<circle cx="1103.65" cy="541.90" r="2.1" fill="#0f0818"/>
<circle cx="926.65" cy="324.30" r="2.7" fill="#0f0818"/>
<circle cx="984.45" cy="324.30" r="2.7" fill="#0f0818"/>
<circle cx="1037.65" cy="324.30" r="2.7" fill="#0f0818"/>
<circle cx="1091.25" cy="324.30" r="2.7" fill="#0f0818"/>
<circle cx="1155.85" cy="324.30" r="2.7" fill="#0f0818"/>
<circle cx="1132.70" cy="530.50" r="5" fill="#0f0818"/>
<g transform="translate(1038.0,436.3) scale(-1,1)"><g>
<g transform="translate(78.70,-78.70)"><path d="M0,-7.8 L7.8,0 L0,7.8 L-7.8,0 Z" fill="#0e0717"/><rect x="-1.2" y="-1.2" width="2.4" height="2.4" fill="#dcd9e2"/></g>
<g transform="translate(-78.70,-78.70)"><path d="M0,-7.8 L7.8,0 L0,7.8 L-7.8,0 Z" fill="#0e0717"/><rect x="-1.2" y="-1.2" width="2.4" height="2.4" fill="#dcd9e2"/></g>
<g transform="translate(-78.70,78.70)"><path d="M0,-7.8 L7.8,0 L0,7.8 L-7.8,0 Z" fill="#0e0717"/><rect x="-1.2" y="-1.2" width="2.4" height="2.4" fill="#dcd9e2"/></g>
<g transform="translate(78.70,78.70)"><path d="M0,-7.8 L7.8,0 L0,7.8 L-7.8,0 Z" fill="#0e0717"/><rect x="-1.2" y="-1.2" width="2.4" height="2.4" fill="#dcd9e2"/></g>
<ellipse rx="108.1" ry="107.5" fill="#0e0717"/>
<circle r="62.20" fill="none" stroke="#453d55" stroke-width="0.85" stroke-opacity="0.8"/>
<circle r="64.65" fill="none" stroke="#453d55" stroke-width="0.85" stroke-opacity="0.8"/>
<circle r="67.10" fill="none" stroke="#453d55" stroke-width="0.85" stroke-opacity="0.8"/>
<circle r="69.55" fill="none" stroke="#453d55" stroke-width="0.85" stroke-opacity="0.8"/>
<circle r="72.00" fill="none" stroke="#453d55" stroke-width="0.85" stroke-opacity="0.8"/>
<circle r="74.45" fill="none" stroke="#453d55" stroke-width="0.85" stroke-opacity="0.8"/>
<circle r="76.90" fill="none" stroke="#453d55" stroke-width="0.85" stroke-opacity="0.8"/>
<circle r="79.35" fill="none" stroke="#453d55" stroke-width="0.85" stroke-opacity="0.8"/>
<circle r="81.80" fill="none" stroke="#453d55" stroke-width="0.85" stroke-opacity="0.8"/>
<circle r="84.25" fill="none" stroke="#453d55" stroke-width="0.85" stroke-opacity="0.8"/>
<circle r="86.70" fill="none" stroke="#453d55" stroke-width="0.85" stroke-opacity="0.8"/>
<circle r="89.15" fill="none" stroke="#453d55" stroke-width="0.85" stroke-opacity="0.8"/>
<circle r="91.60" fill="none" stroke="#453d55" stroke-width="0.85" stroke-opacity="0.8"/>
<circle r="94.05" fill="none" stroke="#453d55" stroke-width="0.85" stroke-opacity="0.8"/>
<circle r="96.50" fill="none" stroke="#453d55" stroke-width="0.85" stroke-opacity="0.8"/>
<circle r="98.95" fill="none" stroke="#453d55" stroke-width="0.85" stroke-opacity="0.8"/>
<circle r="101.40" fill="none" stroke="#453d55" stroke-width="0.85" stroke-opacity="0.8"/>
<circle r="103.85" fill="none" stroke="#453d55" stroke-width="0.85" stroke-opacity="0.8"/>
<circle r="93.0" fill="none" stroke="#0e0717" stroke-width="2.6"/>
<circle r="77" fill="none" stroke="#0e0717" stroke-width="1.6"/>
<circle r="101.5" fill="none" stroke="#0e0717" stroke-width="1.4"/>
<line x1="56.57" y1="-16.76" x2="97.80" y2="-28.97" stroke="#0e0717" stroke-width="2.0"/>
<line x1="56.57" y1="16.76" x2="97.80" y2="28.97" stroke="#0e0717" stroke-width="2.0"/>
<line x1="51.85" y1="28.15" x2="89.64" y2="48.67" stroke="#0e0717" stroke-width="2.0"/>
<line x1="28.15" y1="51.85" x2="48.67" y2="89.64" stroke="#0e0717" stroke-width="2.0"/>
<line x1="16.76" y1="56.57" x2="28.97" y2="97.80" stroke="#0e0717" stroke-width="2.0"/>
<line x1="-16.76" y1="56.57" x2="-28.97" y2="97.80" stroke="#0e0717" stroke-width="2.0"/>
<line x1="-28.15" y1="51.85" x2="-48.67" y2="89.64" stroke="#0e0717" stroke-width="2.0"/>
<line x1="-51.85" y1="28.15" x2="-89.64" y2="48.67" stroke="#0e0717" stroke-width="2.0"/>
<line x1="-56.57" y1="16.76" x2="-97.80" y2="28.97" stroke="#0e0717" stroke-width="2.0"/>
<line x1="-56.57" y1="-16.76" x2="-97.80" y2="-28.97" stroke="#0e0717" stroke-width="2.0"/>
<line x1="-51.85" y1="-28.15" x2="-89.64" y2="-48.67" stroke="#0e0717" stroke-width="2.0"/>
<line x1="-28.15" y1="-51.85" x2="-48.67" y2="-89.64" stroke="#0e0717" stroke-width="2.0"/>
<line x1="-16.76" y1="-56.57" x2="-28.97" y2="-97.80" stroke="#0e0717" stroke-width="2.0"/>
<line x1="16.76" y1="-56.57" x2="28.97" y2="-97.80" stroke="#0e0717" stroke-width="2.0"/>
<line x1="28.15" y1="-51.85" x2="48.67" y2="-89.64" stroke="#0e0717" stroke-width="2.0"/>
<line x1="51.85" y1="-28.15" x2="89.64" y2="-48.67" stroke="#0e0717" stroke-width="2.0"/>
<line x1="41.72" y1="41.72" x2="73.54" y2="73.54" stroke="#0e0717" stroke-width="6.5" stroke-opacity="0.9"/>
<line x1="-41.72" y1="41.72" x2="-73.54" y2="73.54" stroke="#0e0717" stroke-width="6.5" stroke-opacity="0.9"/>
<line x1="-41.72" y1="-41.72" x2="-73.54" y2="-73.54" stroke="#0e0717" stroke-width="6.5" stroke-opacity="0.9"/>
<line x1="41.72" y1="-41.72" x2="73.54" y2="-73.54" stroke="#0e0717" stroke-width="6.5" stroke-opacity="0.9"/>
<circle r="59.5" fill="none" stroke="#b9b5c6" stroke-width="0.9" stroke-dasharray="39.731 7" transform="rotate(25.90)"/>
<circle r="25.9" fill="none" stroke="#ffffff" stroke-width="5.2" stroke-dasharray="10.307 3.255" transform="rotate(-11.40)"/>
<circle r="21" fill="#fff"/>
<circle r="19.9" fill="none" stroke="#0e0717" stroke-width="1.4"/>
<circle r="17.7" fill="none" stroke="#0e0717" stroke-width="1.0"/>
<path d="M0,-17.7 A17.7,17.7 0 0 1 17.7,0 Z M0,17.7 A17.7,17.7 0 0 1 -17.7,0 Z" fill="#3f3753"/>
<rect x="-12.6" y="-12.6" width="25.2" height="25.2" rx="3.4" fill="#fff" stroke="#0e0717" stroke-width="1.5" transform="rotate(45)"/>
<path d="M-12,-7.4 L-5.4,-8.6 L-7.8,-3.4 Z M5.8,7.6 L12.2,6.4 L8,11.6 Z" fill="#0e0717"/>
<g transform="rotate(0)"><rect x="-3.8" y="-26.4" width="2.2" height="2.6" fill="#0e0717"/><rect x="1.6" y="-26.4" width="2.2" height="2.6" fill="#0e0717"/><rect x="-0.7" y="-25.6" width="1.4" height="1.2" fill="#0e0717"/></g>
<g transform="rotate(90)"><rect x="-3.8" y="-26.4" width="2.2" height="2.6" fill="#0e0717"/><rect x="1.6" y="-26.4" width="2.2" height="2.6" fill="#0e0717"/><rect x="-0.7" y="-25.6" width="1.4" height="1.2" fill="#0e0717"/></g>
<g transform="rotate(180)"><rect x="-3.8" y="-26.4" width="2.2" height="2.6" fill="#0e0717"/><rect x="1.6" y="-26.4" width="2.2" height="2.6" fill="#0e0717"/><rect x="-0.7" y="-25.6" width="1.4" height="1.2" fill="#0e0717"/></g>
<g transform="rotate(270)"><rect x="-3.8" y="-26.4" width="2.2" height="2.6" fill="#0e0717"/><rect x="1.6" y="-26.4" width="2.2" height="2.6" fill="#0e0717"/><rect x="-0.7" y="-25.6" width="1.4" height="1.2" fill="#0e0717"/></g>
</g></g>
</g>
</svg></body></html>
